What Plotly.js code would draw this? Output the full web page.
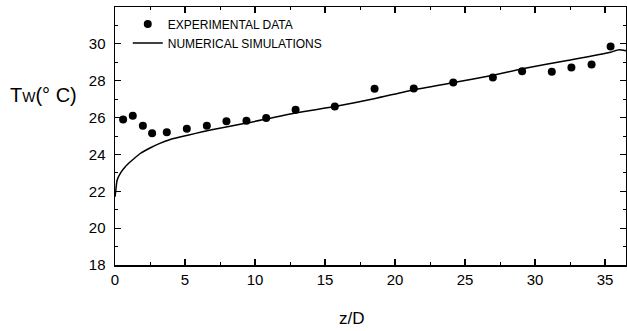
<!DOCTYPE html>
<html>
<head>
<meta charset="utf-8">
<script src="https://cdn.plot.ly/plotly-3.0.1.min.js"></script>
<style>html,body{margin:0;padding:0;background:#fff;}#chart{width:627px;height:331px;}</style>
</head>
<body>
<div id="chart"></div>
<script>
// Experimental data
const expZ = [0.58, 1.27, 1.99, 2.65, 3.7, 5.13, 6.56, 7.96, 9.39, 10.8, 12.9, 15.7, 18.54, 21.34, 24.16, 26.99, 29.08, 31.2, 32.6, 34.04, 35.4];
const expT = [25.9, 26.1, 25.55, 25.15, 25.2, 25.4, 25.55, 25.8, 25.83, 25.98, 26.43, 26.6, 27.56, 27.58, 27.9, 28.18, 28.52, 28.49, 28.72, 28.88, 29.86];
// Numerical simulations
const simZ = [0, 0.05, 0.15, 0.4, 0.75, 1.1, 1.8, 2.5, 3.2, 3.9, 5.2, 7, 9.4, 12.9, 15.7, 18.5, 21.3, 24.2, 27, 29.1, 32.3, 35.4, 36.0, 36.5];
const simT = [21.7, 22.0, 22.6, 23.0, 23.35, 23.6, 24.05, 24.35, 24.6, 24.8, 25.04, 25.35, 25.7, 26.25, 26.6, 27.02, 27.5, 27.9, 28.3, 28.65, 29.1, 29.55, 29.68, 29.62];
const seriesNames = ['EXPERIMENTAL DATA', 'NUMERICAL SIMULATIONS'];
const xTickVals = [0, 5, 10, 15, 20, 25, 30, 35];
const yTickVals = [18, 20, 22, 24, 26, 28, 30];

const font = 'Liberation Sans, Arial, sans-serif';

const traces = [
  {x: expZ, y: expT, mode: 'markers', type: 'scatter', name: seriesNames[0],
   marker: {color: '#000', size: 8, symbol: 'circle'}},
  {x: simZ, y: simT, mode: 'lines', type: 'scatter', name: seriesNames[1],
   line: {color: '#000', width: 1.5, shape: 'spline', smoothing: 0.5}}
];

const axisCommon = {
  showgrid: false, zeroline: false, showline: true, linecolor: '#000', linewidth: 1.5,
  mirror: 'ticks', ticks: 'inside', ticklen: 6, tickwidth: 1.2, tickcolor: '#000',
  tickfont: {family: font, size: 15, color: '#000'}
};

const layout = {
  width: 627, height: 331,
  margin: {l: 114.5, r: 1, t: 7, b: 66},
  paper_bgcolor: '#fff', plot_bgcolor: '#fff',
  showlegend: true,
  legend: {x: 0.025, y: 0.99, xanchor: 'left', yanchor: 'top', bgcolor: 'rgba(0,0,0,0)',
           font: {family: font, size: 12, color: '#000'}, itemwidth: 30, tracegroupgap: 0},
  xaxis: Object.assign({}, axisCommon, {
    range: [0, 36.5], tickvals: xTickVals, ticktext: xTickVals.map(String),
    minor: {dtick: 2.5, ticks: 'inside', ticklen: 3, tickcolor: '#000', tickwidth: 1}
  }),
  yaxis: Object.assign({}, axisCommon, {
    range: [18, 32], tickvals: yTickVals, ticktext: yTickVals.map(String),
    ticklabelstandoff: 5,
    minor: {dtick: 1, ticks: 'inside', ticklen: 3, tickcolor: '#000', tickwidth: 1}
  }),
  annotations: [
    {text: 'T<span style="font-size:14px">W</span>(° C)', xref: 'paper', yref: 'paper', x: -0.071, y: 0.659,
     xanchor: 'right', yanchor: 'middle', showarrow: false,
     font: {family: font, size: 20, color: '#000'}},
    {text: 'z/D', xref: 'paper', yref: 'paper', x: 0.464, y: -0.209,
     xanchor: 'center', yanchor: 'middle', showarrow: false,
     font: {family: font, size: 17, color: '#000'}}
  ]
};

Plotly.newPlot('chart', traces, layout, {displayModeBar: false, staticPlot: true});
</script>
</body>
</html>
